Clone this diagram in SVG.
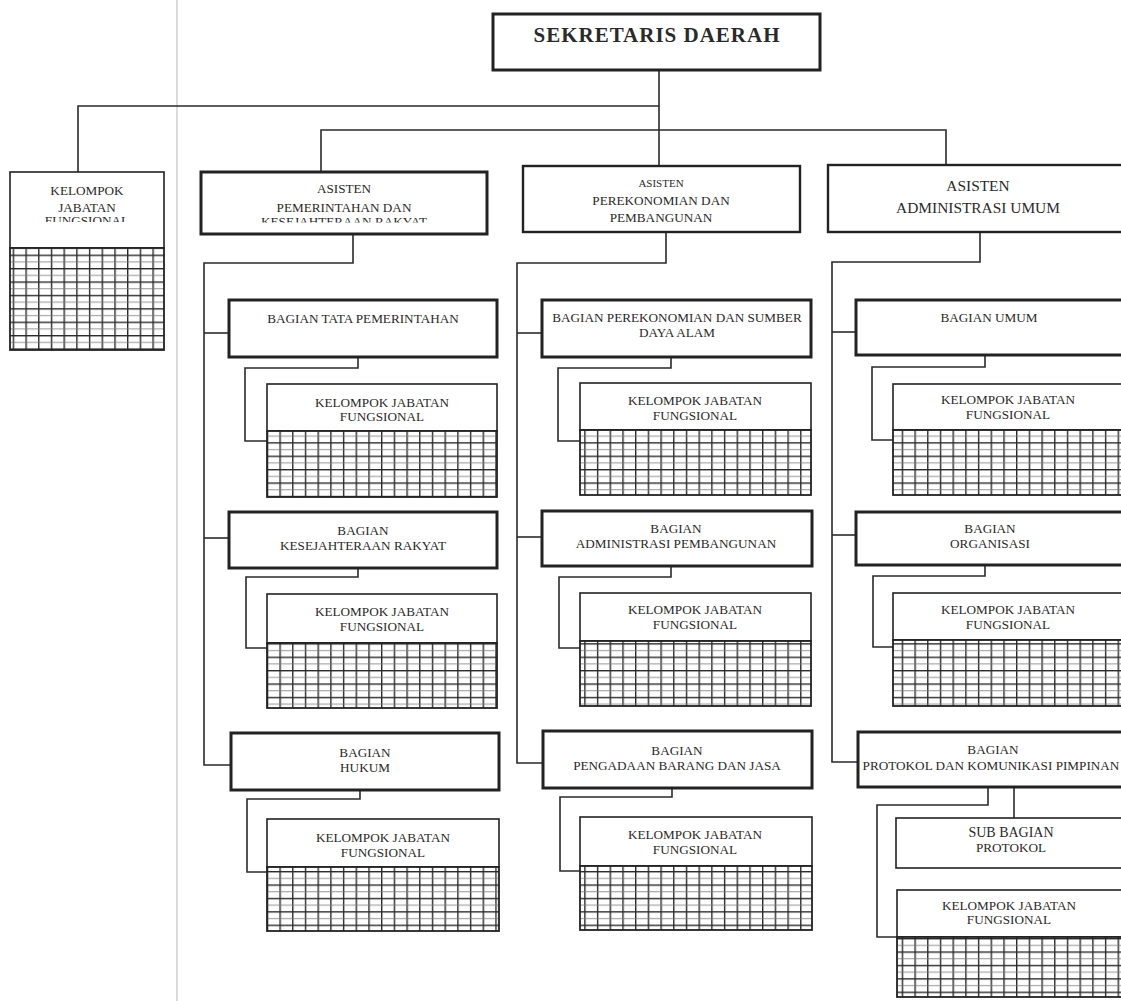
<svg xmlns="http://www.w3.org/2000/svg" width="1121" height="1001" viewBox="0 0 1121 1001">
<defs>
<pattern id="grid" patternUnits="userSpaceOnUse" width="12.7" height="13.4">
<rect width="12.7" height="13.4" fill="#fff"/>
<line x1="0.7" y1="0" x2="0.7" y2="13.4" stroke="#2a2a2a" stroke-width="1.4"/>
<line x1="0" y1="0.7" x2="12.7" y2="0.7" stroke="#2a2a2a" stroke-width="1.4"/>
<line x1="0" y1="7.4" x2="12.7" y2="7.4" stroke="#777" stroke-width="0.8"/>
</pattern>
<clipPath id="clipL"><rect x="0" y="0" width="200" height="222"/></clipPath>
<clipPath id="clipA"><rect x="190" y="0" width="320" height="222.5"/></clipPath>
</defs>
<style>
text{font-family:"Liberation Serif","DejaVu Serif",serif;fill:#2a2a2a;text-anchor:middle}
.t{font-size:13.2px}
.b{font-size:11px}
.big{font-size:15.4px}
.box{fill:#fff;stroke:#222}
.thick{stroke-width:3}
.mid{stroke-width:2.4}
.thin{stroke-width:1.6}
.grid{fill:url(#grid);stroke:#222;stroke-width:1.8}
.con{fill:none;stroke:#2a2a2a;stroke-width:1.6}
</style>
<rect width="1121" height="1001" fill="#fff"/>
<line x1="177" y1="0" x2="177" y2="1001" stroke="#c4c4c4" stroke-width="1.2"/>

<g id="connectors">
<polyline class="con" points="659,70 659,166"/>
<polyline class="con" points="659,106 78,106 78,172"/>
<polyline class="con" points="321,172 321,130 946,130 946,165"/>
<polyline class="con" points="353,234 353,263 204,263 204,765 231,765"/>
<line class="con" x1="204" y1="333" x2="229" y2="333"/>
<line class="con" x1="204" y1="538" x2="229" y2="538"/>
<polyline class="con" points="358,357 358,368 245,368 245,441 267,441"/>
<polyline class="con" points="358,568 358,577 246,577 246,648 267,648"/>
<polyline class="con" points="360,790 360,799 247,799 247,872 267,872"/>
<polyline class="con" points="666,232 666,263 517,263 517,763 543,763"/>
<line class="con" x1="517" y1="333" x2="542" y2="333"/>
<line class="con" x1="517" y1="537" x2="542" y2="537"/>
<polyline class="con" points="671,357 671,368 558,368 558,441 580,441"/>
<polyline class="con" points="671,566 671,577 559,577 559,648 580,648"/>
<polyline class="con" points="672,788 672,797 560,797 560,871 580,871"/>
<polyline class="con" points="980,232 980,262 832,262 832,762 858,762"/>
<line class="con" x1="832" y1="332" x2="856" y2="332"/>
<line class="con" x1="832" y1="535" x2="856" y2="535"/>
<polyline class="con" points="985,355 985,367 872,367 872,440 893,440"/>
<polyline class="con" points="985,565 985,576 873,576 873,647 893,647"/>
<polyline class="con" points="988,787 988,805 877,805 877,937 897,937"/>
<line class="con" x1="1014" y1="787" x2="1014" y2="818"/>
</g>

<g id="sekda">
<rect class="box thick" x="493" y="14" width="327" height="56"/>
<text x="657" y="42" style="font-size:21px;font-weight:bold;letter-spacing:1px">SEKRETARIS DAERAH</text>
</g>

<g id="kjf-sekda">
<rect class="box thin" x="10" y="172" width="154" height="76"/>
<rect class="grid" x="10" y="248" width="154" height="102"/>
<text class="t" x="87" y="194.5">KELOMPOK</text>
<text class="t" x="87" y="211.5">JABATAN</text>
<text class="t" x="87" y="225" clip-path="url(#clipL)">FUNGSIONAL</text>
</g>

<g id="asisten-pemerintahan">
<rect class="box thick" x="201" y="172" width="286" height="62"/>
<text class="t" x="344" y="192.5">ASISTEN</text>
<text class="t" x="344" y="211.5">PEMERINTAHAN DAN</text>
<text class="t" x="344" y="225.5" clip-path="url(#clipA)">KESEJAHTERAAN RAKYAT</text>
</g>

<g id="asisten-perekonomian">
<rect class="box mid" x="523" y="166" width="277" height="66"/>
<text class="b" x="661" y="187">ASISTEN</text>
<text class="t" x="661" y="204.5">PEREKONOMIAN DAN</text>
<text class="t" x="661" y="221.5">PEMBANGUNAN</text>
</g>

<g id="asisten-administrasi">
<rect class="box mid" x="828" y="165" width="296" height="67"/>
<text class="big" x="978" y="190.5">ASISTEN</text>
<text class="big" x="978" y="212.5">ADMINISTRASI UMUM</text>
</g>

<g id="bagian-tata-pemerintahan">
<rect class="box thick" x="229" y="300" width="268" height="57"/>
<text class="t" x="363" y="322.5">BAGIAN TATA PEMERINTAHAN</text>
</g>
<g id="kjf-tapem">
<rect class="box thin" x="267" y="384" width="230" height="47"/>
<rect class="grid" x="267" y="431" width="230" height="66"/>
<text class="t" x="382" y="406.5">KELOMPOK JABATAN</text>
<text class="t" x="382" y="420.5">FUNGSIONAL</text>
</g>
<g id="bagian-kesra">
<rect class="box thick" x="229" y="512" width="268" height="56"/>
<text class="t" x="363" y="534.5">BAGIAN</text>
<text class="t" x="363" y="549.5">KESEJAHTERAAN RAKYAT</text>
</g>
<g id="kjf-kesra">
<rect class="box thin" x="267" y="594" width="230" height="49"/>
<rect class="grid" x="267" y="643" width="230" height="65"/>
<text class="t" x="382" y="615.5">KELOMPOK JABATAN</text>
<text class="t" x="382" y="630.5">FUNGSIONAL</text>
</g>
<g id="bagian-hukum">
<rect class="box thick" x="231" y="733" width="268" height="57"/>
<text class="t" x="365" y="756.5">BAGIAN</text>
<text class="t" x="365" y="771.5">HUKUM</text>
</g>
<g id="kjf-hukum">
<rect class="box thin" x="267" y="819" width="232" height="48"/>
<rect class="grid" x="267" y="867" width="232" height="64"/>
<text class="t" x="383" y="841.5">KELOMPOK JABATAN</text>
<text class="t" x="383" y="856.5">FUNGSIONAL</text>
</g>

<g id="bagian-perekonomian-sda">
<rect class="box thick" x="542" y="300" width="269" height="57"/>
<text class="t" x="677" y="321.5">BAGIAN PEREKONOMIAN DAN SUMBER</text>
<text class="t" x="677" y="336.5">DAYA ALAM</text>
</g>
<g id="kjf-perekonomian">
<rect class="box thin" x="580" y="383" width="231" height="47"/>
<rect class="grid" x="580" y="430" width="231" height="65"/>
<text class="t" x="695" y="404.5">KELOMPOK JABATAN</text>
<text class="t" x="695" y="419.5">FUNGSIONAL</text>
</g>
<g id="bagian-adm-pembangunan">
<rect class="box thick" x="542" y="511" width="270" height="55"/>
<text class="t" x="676" y="532.5">BAGIAN</text>
<text class="t" x="676" y="547.5">ADMINISTRASI PEMBANGUNAN</text>
</g>
<g id="kjf-adm-pembangunan">
<rect class="box thin" x="580" y="593" width="231" height="48"/>
<rect class="grid" x="580" y="641" width="231" height="65"/>
<text class="t" x="695" y="613.5">KELOMPOK JABATAN</text>
<text class="t" x="695" y="628.5">FUNGSIONAL</text>
</g>
<g id="bagian-pengadaan">
<rect class="box thick" x="543" y="731" width="269" height="57"/>
<text class="t" x="677" y="754.5">BAGIAN</text>
<text class="t" x="677" y="769.5">PENGADAAN BARANG DAN JASA</text>
</g>
<g id="kjf-pengadaan">
<rect class="box thin" x="580" y="817" width="232" height="49"/>
<rect class="grid" x="580" y="866" width="232" height="64"/>
<text class="t" x="695" y="838.5">KELOMPOK JABATAN</text>
<text class="t" x="695" y="853.5">FUNGSIONAL</text>
</g>

<g id="bagian-umum">
<rect class="box thick" x="856" y="300" width="268" height="55"/>
<text class="t" x="989" y="321.5">BAGIAN UMUM</text>
</g>
<g id="kjf-umum">
<rect class="box thin" x="893" y="384" width="231" height="46"/>
<rect class="grid" x="893" y="430" width="231" height="65"/>
<text class="t" x="1008" y="403.5">KELOMPOK JABATAN</text>
<text class="t" x="1008" y="418.5">FUNGSIONAL</text>
</g>
<g id="bagian-organisasi">
<rect class="box thick" x="856" y="512" width="268" height="53"/>
<text class="t" x="990" y="532.5">BAGIAN</text>
<text class="t" x="990" y="547.5">ORGANISASI</text>
</g>
<g id="kjf-organisasi">
<rect class="box thin" x="893" y="593" width="231" height="47"/>
<rect class="grid" x="893" y="640" width="231" height="66"/>
<text class="t" x="1008" y="613.5">KELOMPOK JABATAN</text>
<text class="t" x="1008" y="628.5">FUNGSIONAL</text>
</g>
<g id="bagian-protokol">
<rect class="box thick" x="858" y="732" width="266" height="55"/>
<text class="t" x="993" y="753.5">BAGIAN</text>
<text class="t" x="991" y="769.5">PROTOKOL DAN KOMUNIKASI PIMPINAN</text>
</g>
<g id="subbag-protokol">
<rect class="box thin" x="896" y="818" width="228" height="50"/>
<text class="t" x="1011" y="836.5" style="font-size:14px">SUB BAGIAN</text>
<text class="t" x="1011" y="851.5">PROTOKOL</text>
</g>
<g id="kjf-protokol">
<rect class="box thin" x="897" y="890" width="227" height="47"/>
<rect class="grid" x="897" y="937" width="227" height="60"/>
<text class="t" x="1009" y="909.5">KELOMPOK JABATAN</text>
<text class="t" x="1009" y="923.5">FUNGSIONAL</text>
</g>
</svg>
